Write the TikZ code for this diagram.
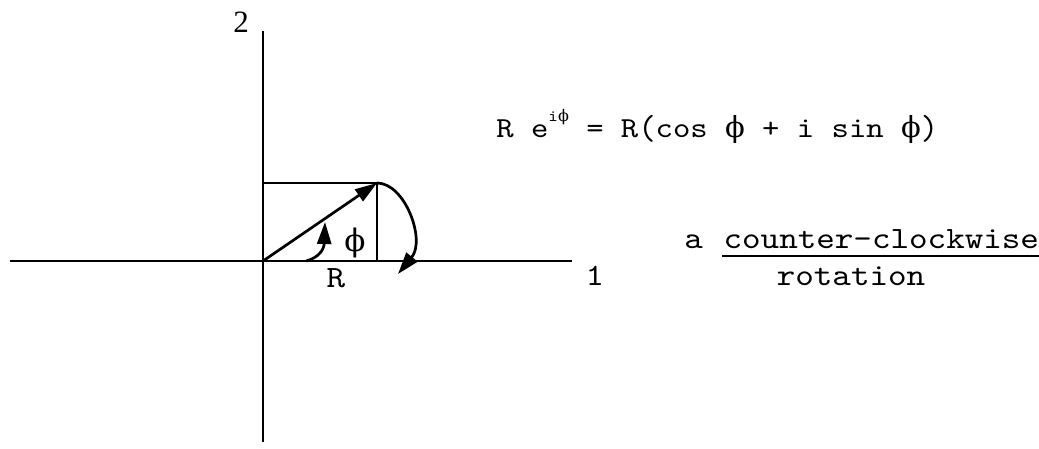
\documentclass[tikz,border=0pt]{standalone}
\usepackage{fontspec}
\usepackage{graphicx}
\newfontfamily\courier[Extension=.otf,FakeStretch=1.14]{lmmono10-regular}
\newfontfamily\serifnum{Liberation Serif}
\newfontfamily\greekfont{DejaVu Serif}
\usepackage{tikz}
\usetikzlibrary{positioning,arrows.meta}
\newcommand{\phisym}{{\greekfont ϕ}}
\newcommand{\tallparen}[1]{\raisebox{-0.08em}{\scalebox{1}[1.2]{#1}}}

\begin{document}
\begin{tikzpicture}[x=1pt, y=-1pt, line width=2.7pt, line join=miter,
  >={Triangle[length=22pt,width=14pt]},
  txt/.style={font=\courier\fontsize{31}{36}\selectfont, inner sep=0pt},
  eqn/.style={font=\courier\fontsize{29}{34}\selectfont, inner sep=0pt},
  num/.style={font=\serifnum\fontsize{31}{36}\selectfont, inner sep=0pt}]
  \useasboundingbox (0,0) rectangle (1039,448);
  % axes
  \coordinate (O) at (263,261);
  \coordinate (xl) at (10,261);
  \coordinate (xr) at (572,261);
  \coordinate (yt) at (263,31);
  \coordinate (yb) at (263,442);
  \draw (xl) -- (xr);
  \draw (yt) -- (yb);
  % box under the vector R e^{i phi}
  \coordinate (P) at (377,183);
  \coordinate (Py) at (263,183);
  \coordinate (Px) at (377,261);
  \draw (Py) -- (P) -- (Px);
  \draw[->] (O) -- (P);
  % angle phi
  \coordinate (a0) at (306,261);
  \coordinate (a1) at (325,222);
  \draw[->] (a0) .. controls (318,258) and (324,250) .. (a1);
  % rotation back onto the axis
  \coordinate (r1) at (398,274);
  \draw[->] (P) .. controls (405,183) and (426,240) .. (r1);
  % labels
  \node[num] (two) at (241,22) {2};
  \node[txt] (one) at (595,276) {1};
  \node[txt] (rlab) at (336,278) {R};
  \node[txt] (philab) at (355,243) {\phisym};
  \node[eqn, anchor=base west] (euler) at (495,137)
    {R e\raisebox{0.55em}{\fontsize{16}{16}\selectfont i\phisym}\ = R\tallparen{(}cos \phisym{} + i sin \phisym\tallparen{)}};
  \node[txt, anchor=base west] (cap) at (683,248) {a};
  \node[txt, right=18pt of cap.base east, anchor=base west] (ccw) {counter-clockwise};
  \draw[line width=2pt] ([yshift=-8pt]ccw.base west) -- ([yshift=-8pt]ccw.base east);
  \node[txt, anchor=base] (rot) at (851,285) {rotation};
\end{tikzpicture}
\end{document}
